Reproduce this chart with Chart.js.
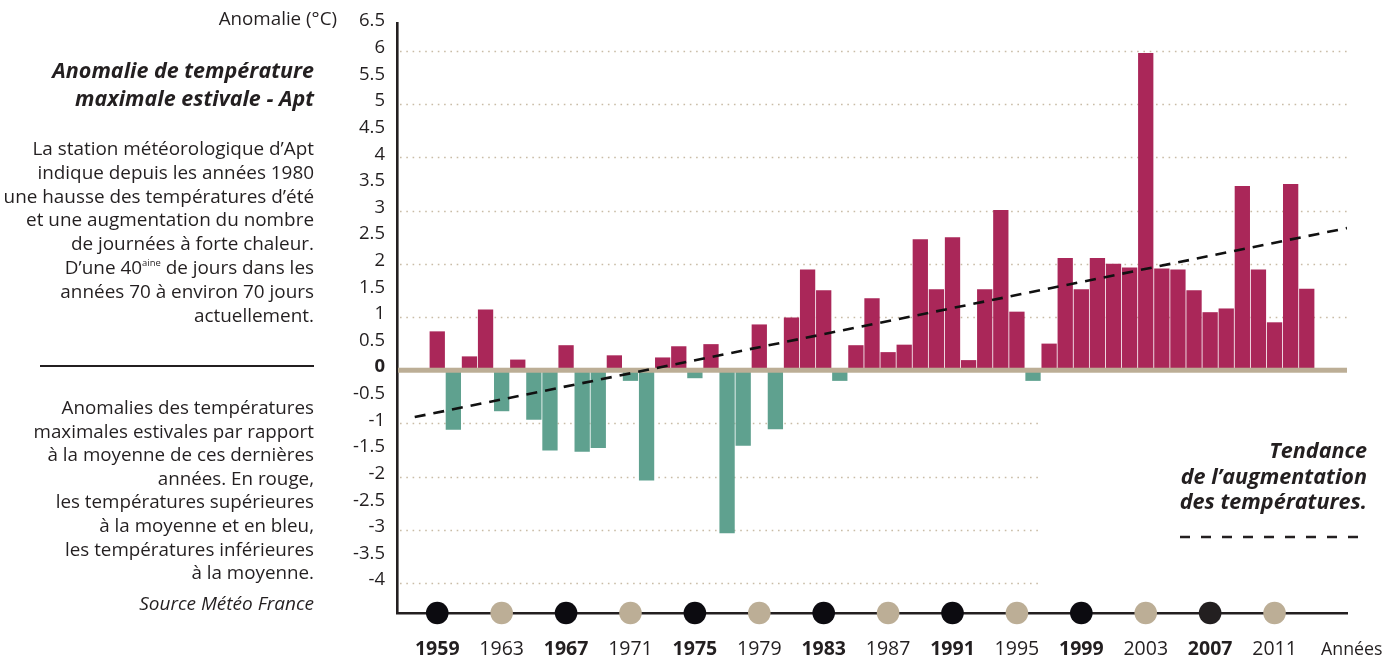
<!DOCTYPE html>
<html><head><meta charset="utf-8">
<script src="https://cdn.jsdelivr.net/npm/chart.js@4"></script>
<style>
html,body{margin:0;padding:0;background:#fff;}
body{width:1400px;height:658px;position:relative;overflow:hidden;font-family:"Open Sans",sans-serif;color:#231f20;}
#wrap{position:absolute;left:0;top:0;width:1400px;height:658px;}
.t{position:absolute;white-space:nowrap;text-align:right;}
sup{font-size:0.5em;vertical-align:0.8em;line-height:0;}
</style></head><body>
<div id="wrap"><canvas id="c" width="1400" height="658"></canvas></div>
<div class="t" style="right:1063px;top:5px;font-size:18.8px;line-height:26px;">Anomalie (°C)</div>
<div class="t" style="right:1086px;top:56px;font-size:21.5px;line-height:28px;font-weight:700;font-style:italic;">Anomalie de température<br>maximale estivale - Apt</div>
<div class="t" style="right:1086px;top:137px;font-size:18.9px;line-height:23.8px;">La station météorologique d’Apt<br>indique depuis les années 1980<br>une hausse des températures d’été<br>et une augmentation du nombre<br>de journées à forte chaleur.<br>D’une 40<sup>aine</sup> de jours dans les<br>années 70 à environ 70 jours<br>actuellement.</div>
<div style="position:absolute;left:40px;top:365px;width:274px;height:1.5px;background:#231f20;"></div>
<div class="t" style="right:1086px;top:396px;font-size:18.8px;line-height:23.6px;">Anomalies des températures<br>maximales estivales par rapport<br>à la moyenne de ces dernières<br>années. En rouge,<br>les températures supérieures<br>à la moyenne et en bleu,<br>les températures inférieures<br>à la moyenne.</div>
<div class="t" style="right:1086px;top:590px;font-size:19px;line-height:26px;font-style:italic;">Source Météo France</div>
<div class="t" style="right:33px;top:437px;font-size:21.6px;line-height:25.5px;font-weight:700;font-style:italic;">Tendance<br>de l’augmentation<br>des températures.</div>
<svg style="position:absolute;left:1178px;top:530px;" width="192" height="14"><line x1="2" y1="7" x2="190" y2="7" stroke="#231f20" stroke-width="2.5" stroke-dasharray="10,11"/></svg>
<div class="t" style="left:1321px;top:635px;font-size:17.8px;line-height:26px;text-align:left;">Années</div>
<script>
// ---- data ----
const years = [1959,1960,1961,1962,1963,1964,1965,1966,1967,1968,1969,1970,1971,1972,1973,1974,1975,1976,1977,1978,
  1979,1980,1981,1982,1983,1984,1985,1986,1987,1988,1989,1990,1991,1992,1993,1994,1995,1996,1997,1998,
  1999,2000,2001,2002,2003,2004,2005,2006,2007,2008,2009,2010,2011,2012,2013];
const anomalies = [0.73,-1.12,0.26,1.14,-0.77,0.2,-0.93,-1.51,0.47,-1.53,-1.46,0.28,-0.2,-2.07,0.24,0.45,-0.15,0.49,-3.06,-1.42,
  0.86,-1.11,0.99,1.89,1.5,-0.2,0.47,1.35,0.34,0.48,2.46,1.52,2.5,0.19,1.52,3.01,1.1,-0.2,0.5,2.11,
  1.52,2.11,2.0,1.93,5.96,1.91,1.89,1.5,1.09,1.16,3.46,1.89,0.9,3.5,1.53];
const trendYears = [1957.6, 2015.5];
const trendValues = [-0.88, 2.67];
const yTickValues = [6.5,6,5.5,5,4.5,4,3.5,3,2.5,2,1.5,1,0.5,0,-0.5,-1,-1.5,-2,-2.5,-3,-3.5,-4];
const gridValues = [6,5,4,3,2,1,-1,-2,-3,-4];
const labelYears = [1959,1963,1967,1971,1975,1979,1983,1987,1991,1995,1999,2003,2007,2011];
const boldYears = [1959,1967,1975,1983,1991,1999,2007];
const markerColors = ['#0c0b10','#bcae96','#0c0b10','#bcae96','#0c0b10','#bcae96','#0c0b10','#bcae96','#0c0b10','#bcae96','#0c0b10','#bcae96','#231f20','#bcae96'];

const RED = '#aa2759', GREEN = '#5fa18f', BEIGE = '#bcae96', INK = '#231f20', DOT = '#c9bca6';
const FONT = '"Open Sans", sans-serif';

const decor = {
  id: 'decor',
  beforeDatasetsDraw(chart) {
    const {ctx, chartArea: a, scales: {x, y}} = chart;
    ctx.save();
    ctx.strokeStyle = DOT; ctx.lineWidth = 1.6; ctx.setLineDash([1.6, 4.7]);
    gridValues.forEach(v => {
      const py = Math.round(y.getPixelForValue(v)) + 0.5;
      const xe = v > 0 ? a.right : x.getPixelForValue(1996.5);
      ctx.beginPath(); ctx.moveTo(a.left + 3, py); ctx.lineTo(xe, py); ctx.stroke();
    });
    ctx.restore();
  },
  afterDatasetDraw(chart, args) {
    if (args.meta.type !== 'bar') return;
    const {ctx, chartArea: a, scales: {y}} = chart;
    const py = y.getPixelForValue(0);
    ctx.save();
    ctx.fillStyle = BEIGE;
    ctx.fillRect(a.left + 1, py - 2.5, a.right - a.left - 1, 5);
    ctx.restore();
  },
  afterDraw(chart) {
    const {ctx, chartArea: a, scales: {x}} = chart;
    ctx.save();
    labelYears.forEach((yr, i) => {
      ctx.beginPath();
      ctx.arc(x.getPixelForValue(yr), a.bottom, 11.3, 0, Math.PI * 2);
      ctx.fillStyle = markerColors[i];
      ctx.fill();
    });
    ctx.restore();
  }
};

new Chart(document.getElementById('c'), {
  type: 'bar',
  data: {
    datasets: [
      {
        type: 'bar',
        order: 2,
        data: years.map((yr, i) => ({x: yr, y: anomalies[i]})),
        backgroundColor: ctx => (ctx.raw && ctx.raw.y >= 0) ? RED : GREEN,
        borderWidth: 0,
        barPercentage: 0.95,
        categoryPercentage: 1
      },
      {
        type: 'line',
        order: 1,
        data: trendYears.map((yr, i) => ({x: yr, y: trendValues[i]})),
        borderColor: '#111',
        borderWidth: 2.6,
        borderDash: [11, 8],
        pointRadius: 0,
        fill: false
      }
    ]
  },
  options: {
    responsive: false,
    animation: false,
    events: [],
    layout: {padding: {top: 20, right: 53, bottom: 0, left: 0}},
    plugins: {legend: {display: false}, tooltip: {enabled: false}},
    scales: {
      x: {
        type: 'linear',
        offset: false,
        min: 1956.5,
        max: 2015.5,
        grid: {display: false, drawTicks: false, offset: false},
        border: {display: true, color: INK, width: 2.6},
        afterBuildTicks: s => { s.ticks = labelYears.map(v => ({value: v})); },
        afterFit: s => { s.height = 45; },
        ticks: {
          padding: 25,
          color: INK,
          maxRotation: 0,
          autoSkip: false,
          callback: v => String(v),
          font: c => ({family: FONT, size: 19.5, weight: boldYears.includes(c.tick && c.tick.value) ? 'bold' : 'normal'})
        }
      },
      y: {
        min: -4.56,
        max: 6.52,
        grid: {display: false, drawTicks: false},
        border: {display: true, color: INK, width: 2.6},
        afterBuildTicks: s => { s.ticks = yTickValues.map(v => ({value: v})); },
        afterFit: s => { s.width = 397; },
        ticks: {
          padding: 12,
          labelOffset: -3,
          color: INK,
          autoSkip: false,
          callback: v => String(v),
          font: c => ({family: FONT, size: 18.5, weight: (c.tick && c.tick.value === 0) ? 'bold' : 'normal'})
        }
      }
    }
  },
  plugins: [decor]
});
</script>
</body></html>
